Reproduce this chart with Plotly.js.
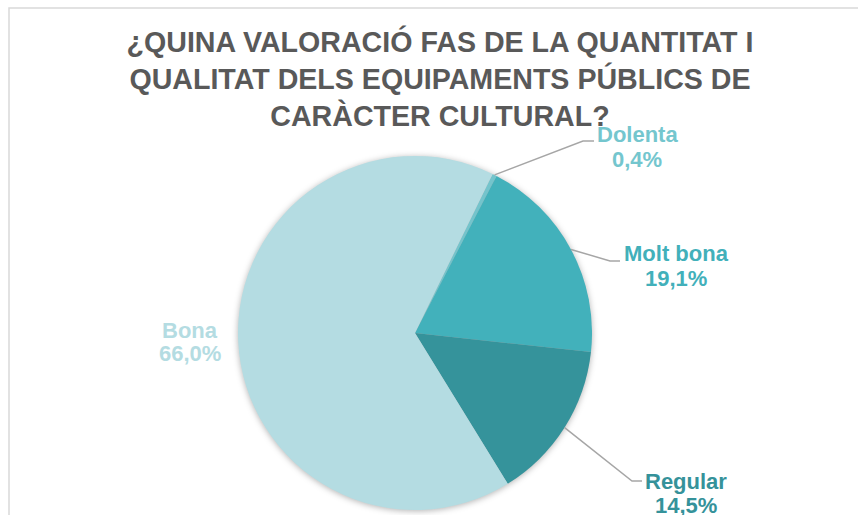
<!DOCTYPE html>
<html><head><meta charset="utf-8">
<script src="https://cdn.plot.ly/plotly-3.0.1.min.js"></script>
<style>
html,body{margin:0;padding:0;background:#fff}
.pielayer{filter:drop-shadow(0px 1px 3px rgba(0,0,0,0.3));}
</style>
</head><body><div id="chart" style="width:858px;height:515px"></div>
<script>
const categories = ['Dolenta', 'Molt bona', 'Regular', 'Bona'];
const values = [0.4, 19.1, 14.5, 66.0];
const percentLabels = ['0,4%', '19,1%', '14,5%', '66,0%'];
const sliceColors = ['#74c4cc', '#42b1bb', '#35939b', '#b4dce2'];
const labelColors = ['#74c6ce', '#42b0ba', '#35929a', '#b4dce2'];
const titleText = '¿QUINA VALORACIÓ FAS DE LA QUANTITAT I<br>QUALITAT DELS EQUIPAMENTS PÚBLICS DE<br>CARÀCTER CULTURAL?';

// geometry (pixels)
const W = 858, H = 515;
const cx = 415, cy = 333, R = 177;
const rotationDeg = 26;
const labelLayout = [
  {elbow: [583, 141], end: [594, 141], x: 637, y1: 134, y2: 159},
  {elbow: [610, 261], end: [620, 261], x: 676, y1: 253, y2: 278},
  {elbow: [632, 481], end: [642, 481], x: 686, y1: 481, y2: 505},
  {elbow: null, x: 190, y1: 330, y2: 353}
];

const px = v => v / W;
const py = v => 1 - v / H;

const total = values.reduce((a, b) => a + b, 0);
let cum = 0;
const shapes = [{
  type: 'rect', xref: 'paper', yref: 'paper',
  x0: px(9), x1: 1.05, y0: -0.05, y1: py(8),
  line: {color: '#d9d9d9', width: 1.5}, fillcolor: 'rgba(0,0,0,0)', layer: 'below'
}];
const annotations = [];
values.forEach((v, i) => {
  const mid = (rotationDeg + (cum + v / 2) / total * 360) * Math.PI / 180;
  cum += v;
  const L = labelLayout[i];
  if (L.elbow) {
    const sx = cx + R * Math.sin(mid), sy = cy - R * Math.cos(mid);
    shapes.push({
      type: 'path', xref: 'paper', yref: 'paper',
      path: `M ${px(sx)} ${py(sy)} L ${px(L.elbow[0])} ${py(L.elbow[1])} L ${px(L.end[0])} ${py(L.end[1])}`,
      line: {color: '#a6a6a6', width: 1.5}
    });
  }
  const font = {family: 'Liberation Sans, Arial, sans-serif', size: 22, color: labelColors[i], weight: 700};
  annotations.push({text: '<b>' + categories[i] + '</b>', x: px(L.x), y: py(L.y1), xref: 'paper', yref: 'paper',
    xanchor: 'center', yanchor: 'middle', showarrow: false, font: font});
  annotations.push({text: '<b>' + percentLabels[i] + '</b>', x: px(L.x), y: py(L.y2), xref: 'paper', yref: 'paper',
    xanchor: 'center', yanchor: 'middle', showarrow: false, font: font});
});

const trace = {
  type: 'pie',
  labels: categories,
  values: values,
  sort: false,
  direction: 'clockwise',
  rotation: rotationDeg,
  textinfo: 'none',
  hoverinfo: 'none',
  marker: {colors: sliceColors, line: {width: 0}},
  domain: {x: [px(cx - R), px(cx + R)], y: [py(cy + R), py(cy - R)]},
  showlegend: false
};

const layout = {
  width: W, height: H,
  margin: {l: 0, r: 0, t: 0, b: 0},
  paper_bgcolor: '#ffffff',
  title: {
    text: titleText,
    x: 440 / W, xanchor: 'center', xref: 'container',
    y: 1 - 52 / H, yanchor: 'middle', yref: 'container',
    font: {family: 'Liberation Sans, Arial, sans-serif', size: 28.6, color: '#595959', weight: 700}
  },
  shapes: shapes,
  annotations: annotations,
  showlegend: false
};

Plotly.newPlot('chart', [trace], layout, {displayModeBar: false, staticPlot: true});
</script>
</body></html>
